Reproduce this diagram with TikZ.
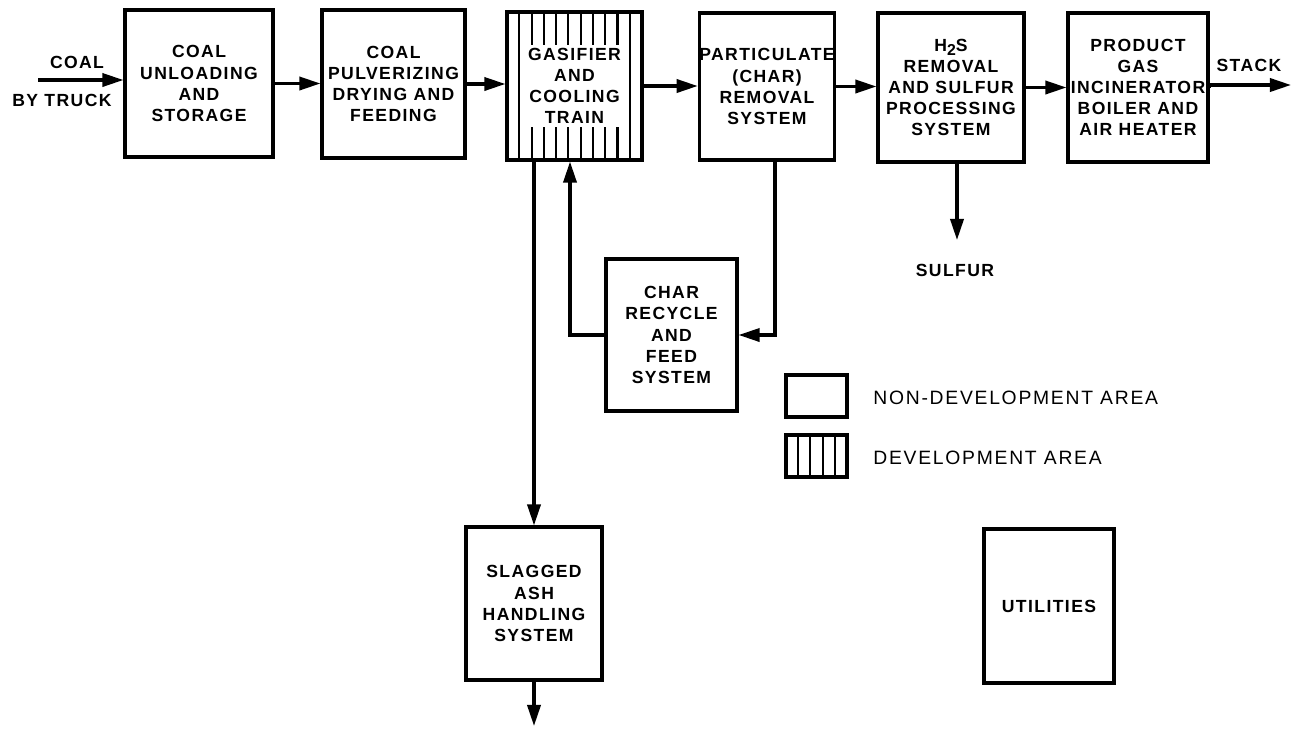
\documentclass[tikz,border=0pt]{standalone}
\usepackage{fontspec}
\setmainfont{Liberation Sans}[LetterSpace=8]
\newfontfamily\legendfont{Liberation Sans}[LetterSpace=9]
\usetikzlibrary{arrows.meta,calc}

\tikzset{
  box/.style={draw, line width=1.8pt, inner sep=0pt, align=center,
    font=\fontsize{10pt}{12pt}\selectfont\bfseries},
  devbox/.style={box, path picture={
    \foreach \k in {1,...,#1}
      \draw[line width=1.2pt]
        ($(path picture bounding box.north west)!{\k/(#1+1)}!(path picture bounding box.north east)$) --
        ($(path picture bounding box.south west)!{\k/(#1+1)}!(path picture bounding box.south east)$);}},
  flow/.style={line width=1.8pt, -{Triangle[length=12pt,width=7.5pt]}},
  tag/.style={font=\fontsize{10pt}{12pt}\selectfont\bfseries, inner sep=1pt, align=center},
  legend/.style={font=\legendfont\fontsize{11pt}{12pt}\selectfont, inner sep=0pt, anchor=west},
}

\begin{document}
\begin{tikzpicture}[x=0.02cm, y=-0.02cm]
  \useasboundingbox[fill=white] (0,0) rectangle (1292,731);

  \node[box, minimum width=2.96cm, minimum height=2.94cm] (unload) at (199,83.5) {COAL\\UNLOADING\\AND\\STORAGE};
  \node[box, minimum width=2.86cm, minimum height=2.96cm] (pulver) at (393.5,84) {COAL\\PULVERIZING\\DRYING AND\\FEEDING};
  \node[devbox=10, minimum width=2.70cm, minimum height=2.96cm] (gasif) at (574.5,86) {};
  \node[tag, fill=white, inner sep=2pt] (gasiftext) at (gasif) {GASIFIER\\AND\\COOLING\\TRAIN};
  \node[box, minimum width=2.68cm, minimum height=2.94cm] (partic) at (767,86.5) {PARTICULATE\\(CHAR)\\REMOVAL\\SYSTEM};
  \node[box, minimum width=2.92cm, minimum height=2.98cm] (hts) at (951,87.5) {H\raisebox{-0.45ex}{\small 2}S\\REMOVAL\\AND SULFUR\\PROCESSING\\SYSTEM};
  \node[box, minimum width=2.80cm, minimum height=2.98cm] (incin) at (1138,87.5) {PRODUCT\\GAS\\INCINERATOR\\BOILER AND\\AIR HEATER};
  \node[box, minimum width=2.62cm, minimum height=3.04cm] (charrec) at (671.5,335) {CHAR\\RECYCLE\\AND\\FEED\\SYSTEM};
  \node[box, minimum width=2.72cm, minimum height=3.06cm] (slag) at (534,603.5) {SLAGGED\\ASH\\HANDLING\\SYSTEM};
  \node[box, minimum width=2.60cm, minimum height=3.08cm] (util) at (1049,606) {UTILITIES};

  \node[tag] (coal) at (77,62) {COAL};
  \node[tag] (truck) at (62,100) {BY TRUCK};
  \node[tag] (stack) at (1249,65) {STACK};
  \node[tag] (sulfur) at (955,270) {SULFUR};

  \coordinate (coalin) at (38,80);
  \coordinate (stackout) at (1291,85);
  \coordinate (sulfurout) at (957,240);
  \coordinate (ashout) at (534,726);

  \draw[flow] (coalin) -- (coalin -| unload.west);
  \draw[flow] (unload.east) -- (unload.east -| pulver.west);
  \draw[flow] (pulver.east) -- (pulver.east -| gasif.west);
  \draw[flow] (gasif.east) -- (gasif.east -| partic.west);
  \draw[flow] (partic.east) -- (partic.east -| hts.west);
  \draw[flow] (hts.east) -- (hts.east -| incin.west);
  \draw[flow] (incin.east) -- (incin.east |- stackout) -- (stackout);
  \draw[flow] (sulfurout |- hts.south) -- (sulfurout);
  \draw[flow] (slag.north |- gasif.south) -- (slag.north);
  \draw[flow] (slag.south) -- (ashout);
  \draw[flow] ([xshift=0.16cm]partic.south) |- (charrec.east);
  \draw[flow] (charrec.west) -| ([xshift=-0.09cm]gasif.south);

  \node[box, minimum width=1.22cm, minimum height=0.84cm] (nondev) at (816.5,396) {};
  \node[devbox=4, minimum width=1.22cm, minimum height=0.84cm] (dev) at (816.5,456) {};
  \node[legend] (nondevtext) at (873,398) {NON-DEVELOPMENT AREA};
  \node[legend] (devtext) at (873,458) {DEVELOPMENT AREA};
\end{tikzpicture}
\end{document}
